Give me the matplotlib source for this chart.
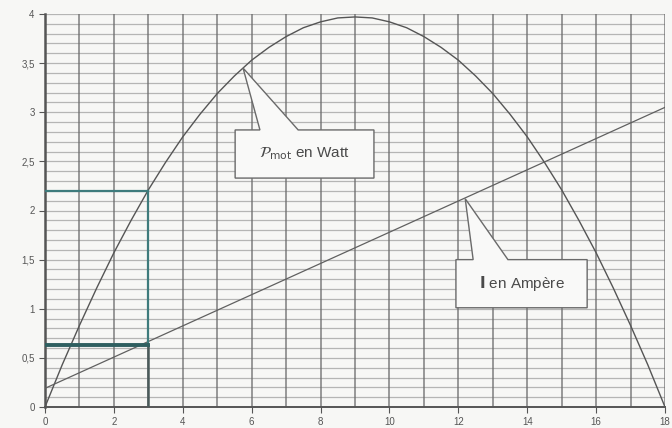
import numpy as np
import matplotlib.pyplot as plt
from matplotlib.patches import Polygon

plt.rcParams['font.family'] = ['Liberation Sans', 'DejaVu Sans']

# P_mot (W), every 0.5 A on the x axis
p_x = [0, 0.5, 1, 1.5, 2, 2.5, 3, 3.5, 4, 4.5, 5, 5.5, 6, 6.5, 7, 7.5, 8, 8.5, 9,
       9.5, 10, 10.5, 11, 11.5, 12, 12.5, 13, 13.5, 14, 14.5, 15, 15.5, 16, 16.5, 17, 17.5, 18]
p_y = [0, 0.43, 0.83, 1.21, 1.57, 1.90, 2.21, 2.49, 2.75, 2.98, 3.19, 3.37, 3.53, 3.66, 3.77, 3.86, 3.92, 3.96, 3.97,
       3.96, 3.92, 3.86, 3.77, 3.66, 3.53, 3.37, 3.19, 2.98, 2.75, 2.49, 2.21, 1.90, 1.57, 1.21, 0.83, 0.43, 0]
# current line (A)
i_x = [0, 18]
i_y = [0.19, 3.05]
# reading at x = 3
x_read = 3
p_read = 2.2
i_read = 0.63

xticks = [0, 2, 4, 6, 8, 10, 12, 14, 16, 18]
yticks = [0, 0.5, 1, 1.5, 2, 2.5, 3, 3.5, 4]
ylabels = ['0', '0,5', '1', '1,5', '2', '2,5', '3', '3,5', '4']

fig = plt.figure(figsize=(6.72, 4.28), dpi=100)
fig.patch.set_facecolor('#f7f7f5')
ax = fig.add_axes([45 / 672, 21 / 428, 620 / 672, 393 / 428])
ax.set_facecolor('#f7f7f5')
ax.set_xlim(0, 18)
ax.set_ylim(0, 4)

# graph paper
for yy in np.arange(0.1, 4.01, 0.1):
    ax.axhline(yy, color='#8a8a8a', lw=0.9, alpha=0.6, zorder=1)
for xx in range(1, 19):
    ax.axvline(xx, color='#6a6a6a', lw=1.1, alpha=0.85, zorder=1)

ax.plot(p_x, p_y, color='#555555', lw=1.0, zorder=3)
ax.plot(i_x, i_y, color='#606060', lw=0.9, zorder=3)

teal = '#3e7b7c'
ax.plot([0, x_read], [p_read, p_read], color=teal, lw=1.6, zorder=4)
ax.plot([x_read, x_read], [i_read, p_read], color=teal, lw=1.6, zorder=4)
ax.plot([x_read, x_read], [0, i_read], color='#4a5a5a', lw=1.8, zorder=4)
ax.plot([0, x_read], [i_read, i_read], color='#2f5f60', lw=2.8, zorder=4)


def callout(x0, x1, y0, y1, bx0, bx1, tip, text):
    pts = [(x0, y1), (bx0, y1), tip, (bx1, y1), (x1, y1), (x1, y0), (x0, y0)]
    ax.add_patch(Polygon(pts, closed=True, facecolor='#f9f9f8', edgecolor='#6a6a6a',
                         lw=1.0, zorder=5))
    ax.text((x0 + x1) / 2, (y0 + y1) / 2, text, ha='center', va='center',
            fontsize=11, color='#4a4a4a', zorder=6)


callout(5.52, 9.55, 2.33, 2.82, 6.24, 7.35, (5.75, 3.45),
        r'$\mathcal{P}_{\mathrm{mot}}$ en Watt')
callout(11.93, 15.74, 1.01, 1.50, 12.43, 13.44, (12.2, 2.12), r'$\mathbf{I}$ en Ampère')

for s in ['top', 'right']:
    ax.spines[s].set_visible(False)
ax.spines['left'].set_color('#555555')
ax.spines['left'].set_linewidth(1.8)
ax.spines['bottom'].set_color('#555555')
ax.spines['bottom'].set_linewidth(1.4)

ax.set_xticks(xticks)
ax.set_xticklabels([str(v) for v in xticks])
ax.set_yticks(yticks)
ax.set_yticklabels(ylabels)
ax.tick_params(axis='both', labelsize=7, colors='#555555', length=4, width=0.8)

fig.savefig('out.png', dpi=100, facecolor=fig.get_facecolor())
